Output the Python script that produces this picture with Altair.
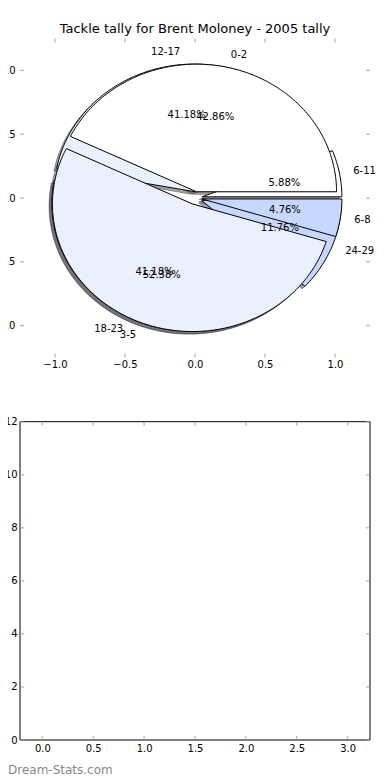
import math
import numpy as np
import pandas as pd
import altair as alt

# ---------------- data ----------------
TITLE = "Tackle tally for Brent Moloney - 2005 tally"
WATERMARK = "Dream-Stats.com"

pie1_labels = ["6-11", "12-17", "18-23", "24-29"]
pie1_counts = [1, 7, 7, 2]
pie1_colors = ["#ffffff", "#eaf0fd", "#eaf0fd", "#c6d8ff"]

pie2_labels = ["0-2", "3-5", "6-8"]
pie2_counts = [9, 11, 1]
pie2_colors = ["#ffffff", "#eaf0fd", "#c6d8ff"]

explode = 0.05
shadow_offset = 0.02

pie_xlim = [-1.25, 1.25]
pie_ylim = [-1.25, 1.25]
pie_ticks = [-1.0, -0.5, 0.0, 0.5, 1.0]

empty_xlim = [-0.22, 3.22]
empty_ylim = [0, 12]
empty_xticks = [0.0, 0.5, 1.0, 1.5, 2.0, 2.5, 3.0]
empty_yticks = [0, 2, 4, 6, 8, 10, 12]

# ---------------- layout ----------------
W = 350.0
H = 701.5
TOP_H = 319.0
BOT_TOP = 383.2
FONT = "DejaVu Sans"


def shade(hexcol, rho=0.3):
    h = hexcol.lstrip("#")
    r, g, b = (int(h[i:i + 2], 16) for i in (0, 2, 4))
    return "#%02x%02x%02x" % (int(r * rho), int(g * rho), int(b * rho))


poly_rows, shadow_rows, text_rows = [], [], []


def build(pie_id, labels, counts, colors):
    total = float(sum(counts))
    start = 0.0
    for k, (lab, c, col) in enumerate(zip(labels, counts, colors)):
        frac = c / total
        t1, t2 = start, start + 360.0 * frac
        start = t2
        mid = math.radians((t1 + t2) / 2)
        cx, cy = explode * math.cos(mid), explode * math.sin(mid)
        n = max(int(abs(t2 - t1)), 2) + 1
        ang = np.radians(np.linspace(t1, t2, n))
        xs = [cx] + list(cx + np.cos(ang))
        ys = [cy] + list(cy + np.sin(ang))
        wid = f"{pie_id}-{k}"
        for i, (x, y) in enumerate(zip(xs, ys)):
            poly_rows.append(dict(pie=pie_id, wid=wid, i=i, x=x, y=y, fill=col))
            shadow_rows.append(dict(pie=pie_id, wid=wid, i=i,
                                    x=x - shadow_offset, y=y - shadow_offset,
                                    fill=shade(col)))
        lx, ly = cx + 1.1 * math.cos(mid), cy + 1.1 * math.sin(mid)
        text_rows.append(dict(kind="label", text=lab, x=lx, y=ly,
                              ha="left" if lx > 0 else "right"))
        text_rows.append(dict(kind="pct", text=f"{100 * frac:.2f}%",
                              x=cx + 0.6 * math.cos(mid), y=cy + 0.6 * math.sin(mid),
                              ha="center"))


build(1, pie1_labels, pie1_counts, pie1_colors)
build(2, pie2_labels, pie2_counts, pie2_colors)

poly_df = pd.DataFrame(poly_rows)
shadow_df = pd.DataFrame(shadow_rows)
text_df = pd.DataFrame(text_rows)

# ---------------- top panel (pie) ----------------
xs_top = alt.Scale(domain=pie_xlim, range=[0, W], nice=False, zero=False)
ys_top = alt.Scale(domain=pie_ylim, range=[TOP_H, 0], nice=False, zero=False)
ax_top_x = alt.Axis(orient="bottom", values=pie_ticks, format=".1f", ticks=False,
                    tickSize=0, domain=False, grid=False, labelPadding=2,
                    offset=TOP_H - H, title=None)
ax_top_y = alt.Axis(orient="left", values=pie_ticks, format=".1f", ticks=False,
                    tickSize=0, domain=False, grid=False, labelPadding=5, title=None)


def TX(f):
    return alt.X(f, scale=xs_top, axis=ax_top_x)


def TY(f):
    return alt.Y(f, scale=ys_top, axis=ax_top_y)


shadows = alt.Chart(shadow_df).mark_line(
    interpolate="linear-closed", strokeWidth=1, fillOpacity=0.5, strokeOpacity=0.5
).encode(
    x=TX("x:Q"), y=TY("y:Q"), order=alt.Order("i:Q"), detail="wid:N",
    fill=alt.Fill("fill:N", scale=None), stroke=alt.Stroke("fill:N", scale=None),
)


def wedges(pie_id):
    return alt.Chart(poly_df).transform_filter(alt.datum.pie == pie_id).mark_line(
        interpolate="linear-closed", strokeWidth=1, stroke="black"
    ).encode(
        x=TX("x:Q"), y=TY("y:Q"), order=alt.Order("i:Q"), detail="wid:N",
        fill=alt.Fill("fill:N", scale=None),
    )


def texts(kind, ha):
    return alt.Chart(text_df).transform_filter(
        (alt.datum.kind == kind) & (alt.datum.ha == ha)
    ).mark_text(align=ha, baseline="middle", font=FONT, fontSize=10, color="black").encode(
        x=TX("x:Q"), y=TY("y:Q"), text="text:N"
    )


tick_rows = []
for v in pie_ticks:
    tick_rows.append(dict(side="bottom", x=v, y=pie_ylim[0]))
    tick_rows.append(dict(side="top", x=v, y=pie_ylim[1]))
    tick_rows.append(dict(side="left", x=pie_xlim[0], y=v))
    tick_rows.append(dict(side="right", x=pie_xlim[1], y=v))
top_ticks_df = pd.DataFrame(tick_rows)

TICK_COLOR = "#9a9a9a"


def tick_layer(df, side, XF, YF):
    orient = "vertical" if side in ("top", "bottom") else "horizontal"
    off = {"top": dict(yOffset=2), "bottom": dict(yOffset=-2),
           "left": dict(xOffset=2), "right": dict(xOffset=-2)}[side]
    return alt.Chart(df).transform_filter(alt.datum.side == side).mark_tick(
        orient=orient, size=4, thickness=1.3, color=TICK_COLOR, **off
    ).encode(x=XF("x:Q"), y=YF("y:Q"))


top_panel = alt.layer(
    shadows,
    wedges(1),
    wedges(2),
    texts("label", "left"),
    texts("label", "right"),
    texts("pct", "center"),
    *[tick_layer(top_ticks_df, s, TX, TY) for s in ("top", "bottom", "left", "right")],
)

# ---------------- bottom panel (empty axes) ----------------
xs_bot = alt.Scale(domain=empty_xlim, range=[0, W], nice=False, zero=False)
ys_bot = alt.Scale(domain=empty_ylim, range=[H, BOT_TOP], nice=False, zero=False)
ax_bot_x = alt.Axis(orient="bottom", values=empty_xticks, format=".1f", ticks=False,
                    tickSize=0, domain=False, grid=False, labelPadding=3, title=None)
ax_bot_y = alt.Axis(orient="left", values=empty_yticks, format="d", ticks=False,
                    tickSize=0, domain=False, grid=False, labelPadding=3, title=None)


def BX(f):
    return alt.X(f, scale=xs_bot, axis=ax_bot_x)


def BY(f):
    return alt.Y(f, scale=ys_bot, axis=ax_bot_y)


frame_df = pd.DataFrame([dict(x0=empty_xlim[0], x1=empty_xlim[1],
                              y0=empty_ylim[0], y1=empty_ylim[1])])
frame = alt.Chart(frame_df).mark_rect(
    fillOpacity=0, stroke="black", strokeWidth=1
).encode(x=BX("x0:Q"), x2="x1:Q", y=BY("y0:Q"), y2="y1:Q")

brows = []
for v in empty_xticks:
    brows.append(dict(side="bottom", x=v, y=empty_ylim[0]))
    brows.append(dict(side="top", x=v, y=empty_ylim[1]))
for v in empty_yticks:
    brows.append(dict(side="left", x=empty_xlim[0], y=v))
    brows.append(dict(side="right", x=empty_xlim[1], y=v))
bot_ticks_df = pd.DataFrame(brows)

watermark = alt.Chart(pd.DataFrame({"t": [WATERMARK]})).mark_text(
    align="left", baseline="middle", font=FONT, fontSize=12, color="#888888"
).encode(x=alt.value(-12), y=alt.value(731.5), text="t:N")

bottom_panel = alt.layer(
    frame,
    *[tick_layer(bot_ticks_df, s, BX, BY) for s in ("top", "bottom", "left", "right")],
    watermark,
)

chart = alt.layer(top_panel, bottom_panel).resolve_scale(
    x="independent", y="independent"
).resolve_axis(
    x="independent", y="independent"
).properties(
    width=W,
    height=H,
    autosize=alt.AutoSizeParams(type="none"),
    padding={"left": 12, "top": 30.5, "right": 12, "bottom": 38},
    title=alt.TitleParams(TITLE, font=FONT, fontSize=13, fontWeight="normal",
                          anchor="middle", baseline="alphabetic", offset=-7.5,
                          color="black"),
).configure_view(
    strokeWidth=0
).configure_axis(
    labelFont=FONT, labelFontSize=10, labelColor="black"
)

chart.save("out.html", embed_options={"renderer": "svg", "actions": False})
